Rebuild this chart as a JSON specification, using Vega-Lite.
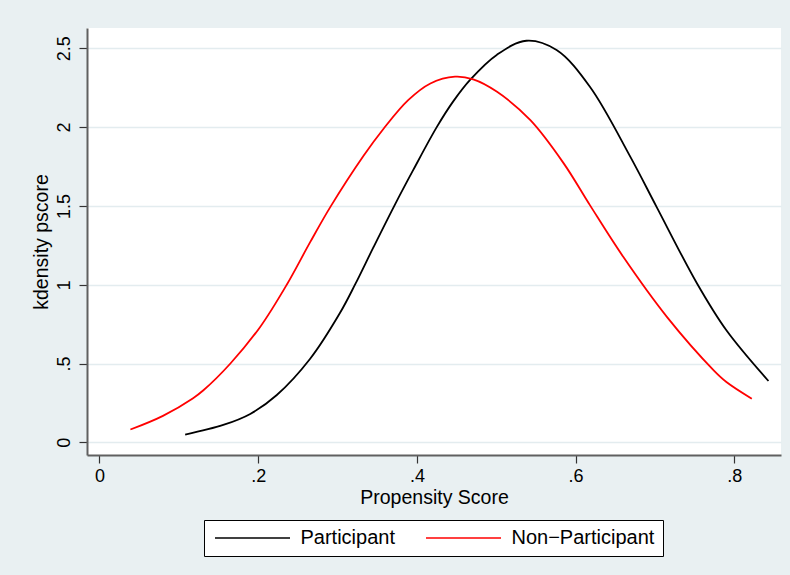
{
  "$schema": "https://vega.github.io/schema/vega-lite/v6.json",
  "width": 694,
  "height": 427,
  "autosize": {"type": "none"},
  "padding": {"left": 87, "top": 28, "right": 9, "bottom": 120},
  "background": "#E9F0F2",
  "config": {
    "view": {"fill": "white", "stroke": null},
    "font": "Liberation Sans",
    "axis": {"labelFont": "Liberation Sans", "titleFont": "Liberation Sans", "titleFontWeight": "normal", "labelColor": "black", "titleColor": "black"}
  },
  "data": {
    "values": [
      {"group": "Participant", "x": 0.108, "y": 0.049},
      {"group": "Participant", "x": 0.156, "y": 0.11},
      {"group": "Participant", "x": 0.19, "y": 0.18},
      {"group": "Participant", "x": 0.2235, "y": 0.3},
      {"group": "Participant", "x": 0.2655, "y": 0.53},
      {"group": "Participant", "x": 0.303, "y": 0.82},
      {"group": "Participant", "x": 0.322, "y": 1.0},
      {"group": "Participant", "x": 0.345, "y": 1.235},
      {"group": "Participant", "x": 0.3725, "y": 1.51},
      {"group": "Participant", "x": 0.3956, "y": 1.73},
      {"group": "Participant", "x": 0.425, "y": 2.0},
      {"group": "Participant", "x": 0.446, "y": 2.165},
      {"group": "Participant", "x": 0.467, "y": 2.3},
      {"group": "Participant", "x": 0.501, "y": 2.46},
      {"group": "Participant", "x": 0.538, "y": 2.548},
      {"group": "Participant", "x": 0.576, "y": 2.489},
      {"group": "Participant", "x": 0.618, "y": 2.256},
      {"group": "Participant", "x": 0.669, "y": 1.811},
      {"group": "Participant", "x": 0.702, "y": 1.494},
      {"group": "Participant", "x": 0.753, "y": 1.008},
      {"group": "Participant", "x": 0.79, "y": 0.711},
      {"group": "Participant", "x": 0.843, "y": 0.389},
      {"group": "Non−Participant", "x": 0.039, "y": 0.081},
      {"group": "Non−Participant", "x": 0.08, "y": 0.168},
      {"group": "Non−Participant", "x": 0.118, "y": 0.28},
      {"group": "Non−Participant", "x": 0.131, "y": 0.33},
      {"group": "Non−Participant", "x": 0.165, "y": 0.5},
      {"group": "Non−Participant", "x": 0.2025, "y": 0.732},
      {"group": "Non−Participant", "x": 0.236, "y": 1.0},
      {"group": "Non−Participant", "x": 0.2655, "y": 1.27},
      {"group": "Non−Participant", "x": 0.291, "y": 1.494},
      {"group": "Non−Participant", "x": 0.333, "y": 1.82},
      {"group": "Non−Participant", "x": 0.358, "y": 1.99},
      {"group": "Non−Participant", "x": 0.389, "y": 2.171},
      {"group": "Non−Participant", "x": 0.417, "y": 2.277},
      {"group": "Non−Participant", "x": 0.448, "y": 2.32},
      {"group": "Non−Participant", "x": 0.471, "y": 2.303},
      {"group": "Non−Participant", "x": 0.501, "y": 2.224},
      {"group": "Non−Participant", "x": 0.543, "y": 2.044},
      {"group": "Non−Participant", "x": 0.585, "y": 1.77},
      {"group": "Non−Participant", "x": 0.618, "y": 1.505},
      {"group": "Non−Participant", "x": 0.66, "y": 1.177},
      {"group": "Non−Participant", "x": 0.715, "y": 0.796},
      {"group": "Non−Participant", "x": 0.774, "y": 0.457},
      {"group": "Non−Participant", "x": 0.79, "y": 0.383},
      {"group": "Non−Participant", "x": 0.822, "y": 0.277}
    ]
  },
  "mark": {"type": "line", "interpolate": "catmull-rom", "strokeWidth": 1.8, "clip": true},
  "encoding": {
    "x": {
      "field": "x", "type": "quantitative",
      "scale": {"domain": [-0.0157, 0.8588], "nice": false, "zero": false},
      "axis": {
        "title": "Propensity Score", "titleFontSize": 19.5, "titlePadding": 3,
        "values": [0, 0.2, 0.4, 0.6, 0.8],
        "labelExpr": "replace(toString(datum.value), '0.', '.')",
        "labelFontSize": 18, "labelPadding": 4, "labelFlush": false,
        "grid": false, "tickSize": 8, "tickColor": "#333333", "tickWidth": 1.2,
        "domainColor": "#606060", "domainWidth": 2
      }
    },
    "y": {
      "field": "y", "type": "quantitative",
      "scale": {"domain": [-0.0806, 2.629], "nice": false, "zero": false},
      "axis": {
        "title": "kdensity pscore", "titleFontSize": 19.5, "titlePadding": 4,
        "values": [0, 0.5, 1, 1.5, 2, 2.5],
        "labelExpr": "replace(toString(datum.value), '0.', '.')",
        "labelFontSize": 18, "labelAngle": -90, "labelPadding": 6, "labelFlush": false,
        "grid": true, "gridColor": "#E3ECEF", "gridWidth": 1.5,
        "tickSize": 8, "tickColor": "#333333", "tickWidth": 1.2,
        "domainColor": "#606060", "domainWidth": 2
      }
    },
    "color": {
      "field": "group", "type": "nominal",
      "scale": {"domain": ["Participant", "Non−Participant"], "range": ["black", "red"]},
      "legend": {
        "title": null, "orient": "none", "legendX": 117, "legendY": 492,
        "direction": "horizontal", "symbolType": "M-6,0H6", "symbolSize": 156.25,
        "symbolStrokeWidth": 1.5, "labelFontSize": 20, "labelFont": "Liberation Sans",
        "labelColor": "black", "symbolOffset": 30.5, "labelOffset": 38, "columnPadding": 28,
        "strokeColor": "black", "fillColor": "white", "padding": 8, "cornerRadius": 0
      }
    }
  }
}
